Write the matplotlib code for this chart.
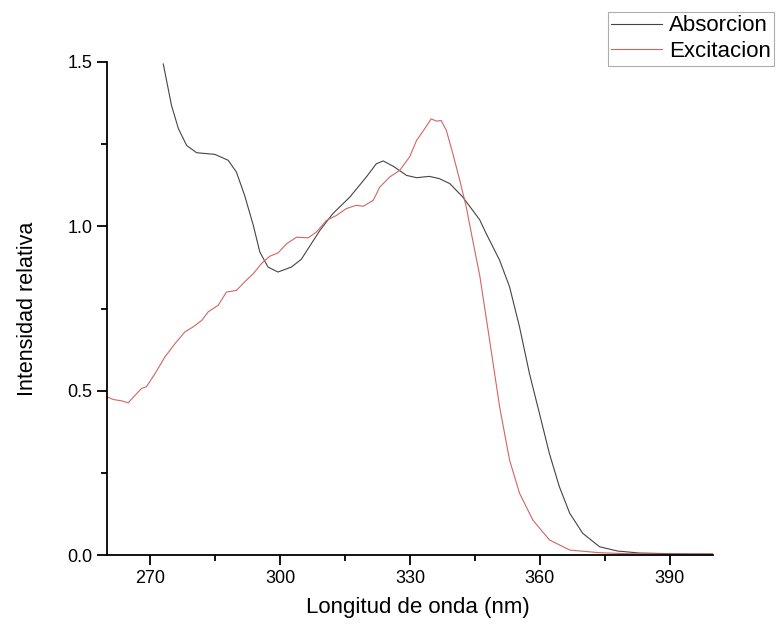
import matplotlib
matplotlib.use("Agg")
import matplotlib.pyplot as plt
from matplotlib.ticker import MultipleLocator

plt.rcParams['font.family'] = ['Liberation Sans', 'DejaVu Sans']

# Absorcion (black)
abs_x = [273.0, 274.9, 276.5, 278.4, 280.7, 284.9, 288.0, 289.9, 291.8, 293.8,
         295.3, 297.2, 299.5, 302.6, 304.9, 309.2, 312.2, 316.1, 319.9, 322.2,
         323.8, 326.1, 329.2, 331.5, 334.5, 336.8, 339.2, 342.2, 346.1, 347.6,
         350.7, 353.0, 355.3, 357.6, 359.9, 362.2, 364.5, 366.9, 369.9, 373.8,
         378.0, 383.0, 390.0, 395.0, 400.0]
abs_y = [1.494, 1.368, 1.297, 1.246, 1.224, 1.219, 1.201, 1.165, 1.094, 1.003,
         0.922, 0.876, 0.861, 0.876, 0.900, 0.988, 1.039, 1.089, 1.150, 1.190,
         1.199, 1.183, 1.155, 1.148, 1.152, 1.145, 1.130, 1.089, 1.020, 0.978,
         0.897, 0.816, 0.694, 0.552, 0.431, 0.309, 0.208, 0.127, 0.066, 0.025,
         0.012, 0.006, 0.004, 0.003, 0.003]

# Excitacion (red)
exc_x = [260.0, 261.5, 263.4, 264.9, 266.5, 268.0, 269.1, 271.1, 273.4, 275.7,
         278.0, 279.9, 281.9, 283.4, 285.7, 287.6, 289.9, 291.8, 293.8, 295.7,
         297.6, 299.5, 301.5, 303.8, 306.5, 308.4, 310.7, 313.0, 315.3, 317.6,
         319.2, 321.5, 323.0, 325.3, 327.6, 329.9, 331.5, 333.4, 334.9, 336.1,
         337.2, 338.4, 339.9, 341.5, 343.0, 344.5, 346.1, 348.4, 350.7, 353.0,
         355.3, 358.4, 362.2, 366.9, 373.8, 380.0, 390.0, 400.0]
exc_y = [0.481, 0.473, 0.469, 0.463, 0.486, 0.507, 0.512, 0.552, 0.603, 0.643,
         0.679, 0.694, 0.714, 0.740, 0.760, 0.800, 0.805, 0.831, 0.856, 0.887,
         0.909, 0.919, 0.947, 0.967, 0.965, 0.983, 1.018, 1.033, 1.054, 1.064,
         1.061, 1.079, 1.119, 1.150, 1.170, 1.211, 1.261, 1.297, 1.327, 1.320,
         1.322, 1.292, 1.221, 1.140, 1.059, 0.957, 0.851, 0.653, 0.451, 0.289,
         0.188, 0.106, 0.046, 0.015, 0.007, 0.004, 0.003, 0.003]

fig = plt.figure(figsize=(7.77, 6.28), dpi=100)
ax = fig.add_axes([107/777, 1-555/628, (713-107)/777, (555-62)/628])

ax.plot(abs_x, abs_y, color='#444444', lw=0.8, label='Absorcion')
ax.plot(exc_x, exc_y, color='#d46464', lw=0.8, label='Excitacion')

ax.set_xlim(260, 400)
ax.set_ylim(0, 1.5)
ax.set_xticks([270, 300, 330, 360, 390])
ax.set_xticks([285, 315, 345, 375], minor=True)
ax.yaxis.set_major_locator(MultipleLocator(0.5))
ax.yaxis.set_minor_locator(MultipleLocator(0.25))

for s in ['top', 'right']:
    ax.spines[s].set_visible(False)
for s in ['left', 'bottom']:
    ax.spines[s].set_linewidth(1.3)
ax.tick_params(which='major', length=7, width=1.3, labelsize=13, direction='out')
ax.tick_params(which='minor', length=4, width=1.3, direction='out')

ax.set_xlabel('Longitud de onda (nm)', fontsize=16, labelpad=9)
ax.xaxis.set_label_coords(0.513, -0.085)
ax.set_ylabel('Intensidad relativa', fontsize=15.5, labelpad=21)

leg = fig.legend(loc='upper left', bbox_to_anchor=(608/777, 1-12/628),
                 fontsize=16, frameon=True, fancybox=False, borderpad=0.15,
                 handlelength=2.3, handletextpad=0.3, labelspacing=0.22,
                 borderaxespad=0)
leg.get_frame().set_edgecolor('#999999')
leg.get_frame().set_linewidth(0.8)

fig.savefig('out.png', dpi=100)
